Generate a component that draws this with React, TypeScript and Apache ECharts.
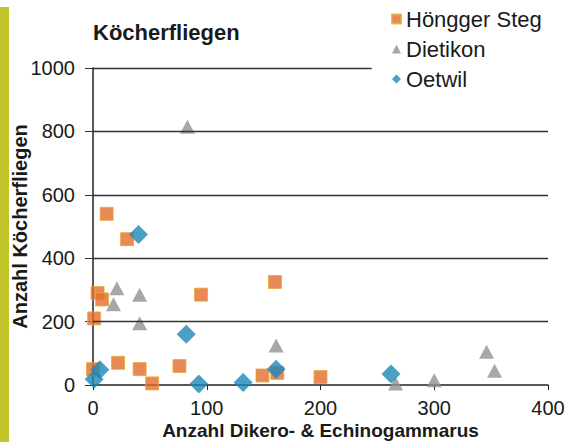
import React, { useEffect, useRef } from "react";
import * as echarts from "echarts";

const title = "Köcherfliegen";
const xAxisName = "Anzahl Dikero- & Echinogammarus";
const yAxisName = "Anzahl Köcherfliegen";
const seriesNames = ["Höngger Steg", "Dietikon", "Oetwil"];

const hoenggerSteg: [number, number][] = [
  [12, 540], [30, 460], [4, 290], [8, 270], [1, 210], [95, 285], [160, 325],
  [0, 50], [22, 70], [41, 50], [52, 5], [76, 60], [149, 30], [162, 38], [200, 25],
];
const dietikon: [number, number][] = [
  [83, 815], [21, 305], [18, 255], [41, 285], [41, 195], [161, 125],
  [266, 5], [300, 15], [346, 105], [353, 45],
];
const oetwil: [number, number][] = [
  [40, 475], [82, 160], [6, 48], [1, 18], [93, 3], [132, 8], [161, 50], [262, 35],
];
const gridValues = [200, 400, 600, 800];
const topGridEnd = 245;

const FONT = "Liberation Sans, Arial, sans-serif";
const ORANGE = "#e46d2c";
const GRAY = "#8e9292";
const BLUE = "#1c87b6";
const TEXT = "#1a1a1a";

export default function App() {
  const ref = useRef<HTMLDivElement>(null);
  useEffect(() => {
    if (!ref.current) return;
    const chart = echarts.init(ref.current, undefined, { renderer: "svg" });
    chart.setOption({
      animation: false,
      backgroundColor: "#ffffff",
      textStyle: { fontFamily: FONT },
      title: {
        text: title,
        left: 88,
        top: 16,
        textStyle: { fontFamily: FONT, fontSize: 22, fontWeight: "bold", color: TEXT },
      },
      legend: {
        orient: "vertical",
        left: 386,
        top: 3,
        itemWidth: 9,
        itemHeight: 9,
        itemGap: 8,
        itemTextGap: 7,
        textStyle: { fontFamily: FONT, fontSize: 22, color: TEXT, lineHeight: 22 },
        data: [
          { name: seriesNames[0], icon: "rect" },
          { name: seriesNames[1], icon: "triangle" },
          { name: seriesNames[2], icon: "diamond" },
        ],
      },
      graphic: [
        { type: "rect", left: 0, top: 7, shape: { width: 9, height: 435 }, style: { fill: "#c2c52a" } },
      ],
      grid: { left: 93, right: 18, top: 68, bottom: 57, containLabel: false, outerBoundsMode: "none" },
      xAxis: {
        type: "value",
        min: 0,
        max: 400,
        interval: 100,
        name: xAxisName,
        nameLocation: "middle",
        nameGap: 35,
        nameMoveOverlap: false,
        nameTextStyle: { fontFamily: FONT, fontSize: 19, fontWeight: "bold", color: TEXT, lineHeight: 20 },
        axisLine: { show: true, lineStyle: { color: "#222", width: 1.5 } },
        axisTick: { show: true, length: 5, inside: false, lineStyle: { color: "#222" } },
        axisLabel: { fontFamily: FONT, fontSize: 20, color: TEXT, margin: 13 },
        splitLine: { show: false },
      },
      yAxis: {
        type: "value",
        min: 0,
        max: 1000,
        interval: 200,
        name: yAxisName,
        nameLocation: "middle",
        nameGap: 63,
        nameMoveOverlap: false,
        nameTextStyle: { fontFamily: FONT, fontSize: 20, fontWeight: "bold", color: TEXT },
        axisLine: { show: true, lineStyle: { color: "#222", width: 1.5 } },
        axisTick: { show: true, length: 8, inside: false, lineStyle: { color: "#333" } },
        axisLabel: {
          fontFamily: FONT,
          fontSize: 20,
          color: TEXT,
          margin: 18,
          formatter: (v: number) => String(v),
        },
        splitLine: { show: false },
      },
      series: [
        {
          name: seriesNames[0],
          type: "scatter",
          symbol: "rect",
          symbolSize: 13,
          itemStyle: { color: ORANGE, borderColor: "#e8a83a", borderWidth: 1 },
          data: hoenggerSteg,
          z: 3,
          markLine: {
            silent: true,
            symbol: "none",
            label: { show: false },
            lineStyle: { color: "#333333", width: 1.4, type: "solid" },
            data: [
              ...gridValues.map((v) => ({ yAxis: v })),
              [{ coord: [0, 1000] }, { coord: [topGridEnd, 1000] }],
            ],
          },
        },
        {
          name: seriesNames[1],
          type: "scatter",
          symbol: "triangle",
          symbolSize: [15, 14],
          itemStyle: { color: GRAY },
          data: dietikon,
          z: 4,
        },
        {
          name: seriesNames[2],
          type: "scatter",
          symbol: "diamond",
          symbolSize: [19, 19],
          itemStyle: { color: BLUE },
          data: oetwil,
          z: 5,
        },
      ],
    });
    return () => chart.dispose();
  }, []);
  return (
    <div
      ref={ref}
      style={{ position: "fixed", left: 0, top: 0, width: 566, height: 442 }}
    />
  );
}
